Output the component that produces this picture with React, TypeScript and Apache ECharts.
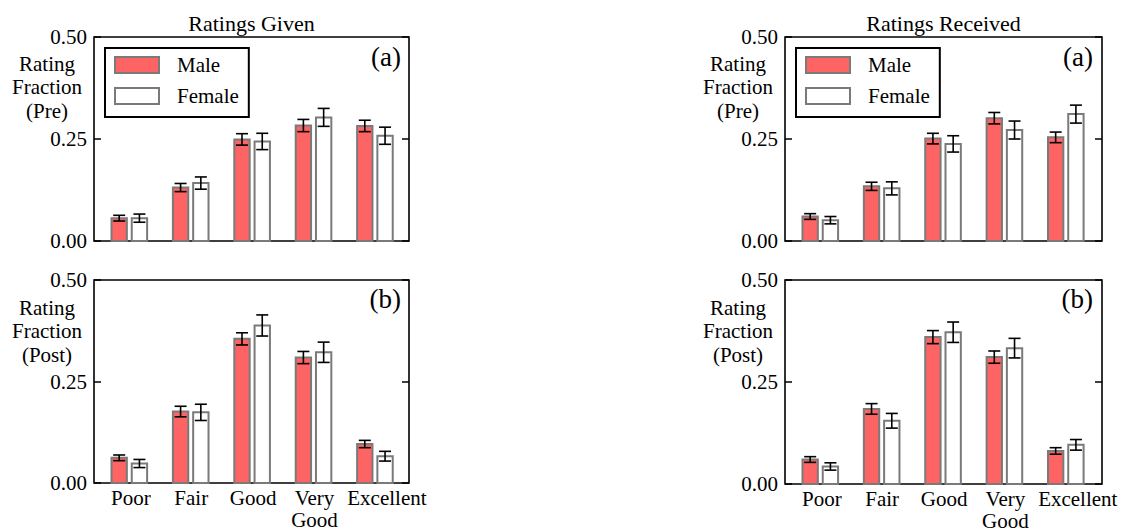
import React, { useEffect, useRef } from "react";
import * as echarts from "echarts";

// Rating categories along the x axis
const categories = ["Poor", "Fair", "Good", "Very\nGood", "Excellent"];
const yTicks = [0, 0.25, 0.5];

// Ratings given, pre-survey
const givenPreMale = [0.056, 0.131, 0.249, 0.283, 0.282];
const givenPreMaleErr = [0.007, 0.010, 0.014, 0.015, 0.014];
const givenPreFemale = [0.056, 0.142, 0.244, 0.303, 0.258];
const givenPreFemaleErr = [0.010, 0.015, 0.020, 0.022, 0.021];

// Ratings given, post-survey
const givenPostMale = [0.062, 0.176, 0.355, 0.309, 0.096];
const givenPostMaleErr = [0.007, 0.013, 0.015, 0.015, 0.009];
const givenPostFemale = [0.048, 0.174, 0.388, 0.322, 0.066];
const givenPostFemaleErr = [0.010, 0.020, 0.026, 0.025, 0.012];

// Ratings received, pre-survey
const recvPreMale = [0.060, 0.134, 0.251, 0.301, 0.254];
const recvPreMaleErr = [0.007, 0.010, 0.013, 0.014, 0.013];
const recvPreFemale = [0.051, 0.129, 0.238, 0.272, 0.311];
const recvPreFemaleErr = [0.009, 0.016, 0.020, 0.022, 0.022];

// Ratings received, post-survey
const recvPostMale = [0.060, 0.184, 0.360, 0.311, 0.081];
const recvPostMaleErr = [0.007, 0.013, 0.016, 0.015, 0.008];
const recvPostFemale = [0.043, 0.155, 0.372, 0.333, 0.096];
const recvPostFemaleErr = [0.009, 0.018, 0.025, 0.024, 0.013];

const FONT = "'Liberation Serif', 'Times New Roman', serif";
const MALE_COLOR = "#ff6464";
const FEMALE_COLOR = "#ffffff";
const EDGE_COLOR = "#7a7a7a";
const BAR_W = 0.25;
const OFFSET = 0.165;
const CAP = 6;
// small horizontal nudges (px) for the category names
const LABEL_DX = [1.5, 0.5, 1, 1, 12];

const panels = [
  { grid: { left: 94, top: 37, width: 315, height: 204 }, xMax: 4.555, bottom: false, male: givenPreMale, maleErr: givenPreMaleErr, female: givenPreFemale, femaleErr: givenPreFemaleErr },
  { grid: { left: 94, top: 280, width: 315, height: 203 }, xMax: 4.555, bottom: true, male: givenPostMale, maleErr: givenPostMaleErr, female: givenPostFemale, femaleErr: givenPostFemaleErr },
  { grid: { left: 785, top: 37, width: 317, height: 204 }, xMax: 4.59, bottom: false, male: recvPreMale, maleErr: recvPreMaleErr, female: recvPreFemale, femaleErr: recvPreFemaleErr },
  { grid: { left: 785, top: 280, width: 317, height: 204 }, xMax: 4.59, bottom: true, male: recvPostMale, maleErr: recvPostMaleErr, female: recvPostFemale, femaleErr: recvPostFemaleErr },
];

function barRenderer(fill: string) {
  return (params: any, api: any) => {
    const x = api.value(0);
    const v = api.value(1);
    const e = api.value(2);
    const p0 = api.coord([x - BAR_W / 2, v]);
    const p1 = api.coord([x + BAR_W / 2, 0]);
    const hi = api.coord([x, v + e]);
    const lo = api.coord([x, v - e]);
    const cx = hi[0];
    const line = { stroke: "#000", lineWidth: 1.6 };
    return {
      type: "group",
      children: [
        { type: "rect", shape: { x: p0[0], y: p0[1], width: p1[0] - p0[0], height: p1[1] - p0[1] }, style: { fill, stroke: EDGE_COLOR, lineWidth: 2 } },
        { type: "line", shape: { x1: cx, y1: hi[1], x2: cx, y2: lo[1] }, style: line },
        { type: "line", shape: { x1: cx - CAP, y1: hi[1], x2: cx + CAP, y2: hi[1] }, style: line },
        { type: "line", shape: { x1: cx - CAP, y1: lo[1], x2: cx + CAP, y2: lo[1] }, style: line },
      ],
    };
  };
}

// Category names under each rating position, placed by the x scale
function categoryLabelRenderer(params: any, api: any) {
  const p = api.coord([api.value(0), 0]);
  return {
    type: "text",
    x: p[0] + LABEL_DX[params.dataIndex],
    y: p[1] + 4,
    style: {
      text: categories[params.dataIndex],
      font: `21px ${FONT}`,
      fill: "#000",
      align: "center",
      verticalAlign: "top",
      lineHeight: 22,
    },
  };
}

function txt(text: string, x: number, y: number, size: number, align: string, lineHeight?: number) {
  return {
    type: "text",
    x,
    y,
    style: {
      text,
      font: `${size}px ${FONT}`,
      fill: "#000",
      textAlign: align,
      align,
      textVerticalAlign: "middle",
      verticalAlign: "middle",
      lineHeight: lineHeight || size,
    },
  };
}

function legendFor(left: number) {
  return {
    left,
    top: 48,
    orient: "vertical",
    selectedMode: false,
    icon: "rect",
    itemWidth: 44,
    itemHeight: 16,
    itemGap: 9,
    padding: [6, 10, 10, 9],
    backgroundColor: "#fff",
    borderColor: "#000",
    borderWidth: 2,
    borderRadius: 0,
    textStyle: { fontFamily: FONT, fontSize: 21, color: "#000", lineHeight: 22, padding: [0, 0, 0, 13] },
    data: [
      { name: "Male", itemStyle: { color: MALE_COLOR, borderColor: EDGE_COLOR, borderWidth: 2 } },
      { name: "Female", itemStyle: { color: FEMALE_COLOR, borderColor: EDGE_COLOR, borderWidth: 2 } },
    ],
  };
}

export default function App() {
  const ref = useRef<HTMLDivElement>(null);

  useEffect(() => {
    if (!ref.current) return;
    const chart = echarts.init(ref.current, null, { renderer: "svg" });

    const grid = panels.map((p) => ({
      ...p.grid,
      show: true,
      borderColor: "#000",
      borderWidth: 1.6,
      backgroundColor: "transparent",
      containLabel: false,
    }));

    const xAxis = panels.map((p, g) => ({
      type: "value",
      gridIndex: g,
      min: -0.575,
      max: p.xMax,
      axisLine: { show: false, onZero: false },
      axisTick: { show: false },
      splitLine: { show: false },
      axisLabel: { show: false },
    }));

    const yAxis: any[] = [];
    panels.forEach((_, g) => {
      const common = {
        type: "value",
        gridIndex: g,
        min: yTicks[0],
        max: yTicks[yTicks.length - 1],
        interval: yTicks[1] - yTicks[0],
        axisLine: { show: false, onZero: false },
        splitLine: { show: false },
        axisTick: { show: true, inside: true, length: 7, lineStyle: { color: "#000", width: 1.5 } },
      };
      yAxis.push({
        ...common,
        position: "left",
        axisLabel: { formatter: (v: number) => v.toFixed(2), fontFamily: FONT, fontSize: 21, color: "#000", margin: 7, showMinLabel: true, showMaxLabel: true },
      });
      yAxis.push({ ...common, position: "right", axisLabel: { show: false } });
    });

    const series: any[] = [];
    panels.forEach((p, g) => {
      series.push({
        type: "custom",
        name: "Male",
        xAxisIndex: g,
        yAxisIndex: g * 2,
        itemStyle: { color: MALE_COLOR },
        encode: { x: 0, y: 1 },
        data: p.male.map((v, i) => [i - OFFSET, v, p.maleErr[i]]),
        renderItem: barRenderer(MALE_COLOR),
      });
      series.push({
        type: "custom",
        name: "Female",
        xAxisIndex: g,
        yAxisIndex: g * 2,
        itemStyle: { color: FEMALE_COLOR },
        encode: { x: 0, y: 1 },
        data: p.female.map((v, i) => [i + OFFSET, v, p.femaleErr[i]]),
        renderItem: barRenderer(FEMALE_COLOR),
      });
      if (p.bottom) {
        series.push({
          type: "custom",
          name: "categories",
          xAxisIndex: g,
          yAxisIndex: g * 2,
          clip: false,
          silent: true,
          encode: { x: 0, y: 1 },
          data: categories.map((_, i) => [i, 0]),
          renderItem: categoryLabelRenderer,
        });
      }
    });

    const graphic = [
      txt("Ratings Given", 251.5, 23, 22, "center"),
      txt("Ratings Received", 943.5, 23, 22, "center"),
      txt("(a)", 401, 57, 27, "right"),
      txt("(b)", 401, 299, 27, "right"),
      txt("(a)", 1093, 57, 27, "right"),
      txt("(b)", 1093, 299, 27, "right"),
      txt("Rating\nFraction\n(Pre)", 47, 87, 21, "center", 23.5),
      txt("Rating\nFraction\n(Post)", 47, 331, 21, "center", 23.5),
      txt("Rating\nFraction\n(Pre)", 738, 87, 21, "center", 23.5),
      txt("Rating\nFraction\n(Post)", 738, 331, 21, "center", 23.5),
    ];

    chart.setOption({
      animation: false,
      backgroundColor: "#fff",
      grid,
      xAxis,
      yAxis,
      series,
      legend: [legendFor(105), legendFor(796)],
      graphic,
    } as any);

    return () => chart.dispose();
  }, []);

  return <div ref={ref} style={{ position: "absolute", left: 0, top: 0, width: 1125, height: 531 }} />;
}
